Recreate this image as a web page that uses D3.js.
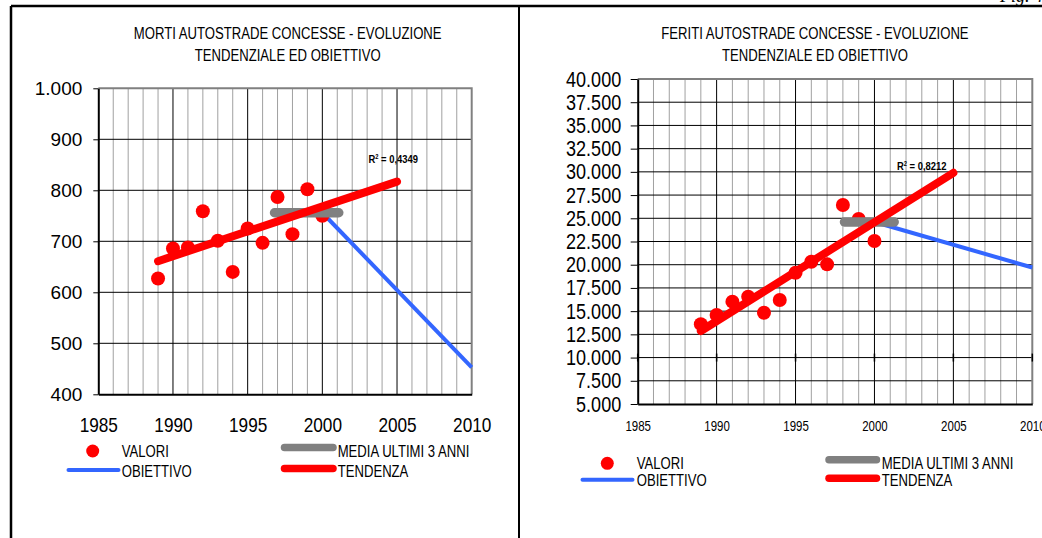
<!DOCTYPE html>
<html>
<head>
<meta charset="utf-8">
<script src="https://cdn.jsdelivr.net/npm/d3@7/dist/d3.min.js"></script>
<style>
  html, body { margin: 0; padding: 0; background: #fff; }
  svg { display: block; }
  text { font-family: "Liberation Sans", Arial, sans-serif; fill: #000; }
</style>
</head>
<body>
<svg id="fig" width="1042" height="538"></svg>
<script>
// ---- data ----------------------------------------------------------
const years = [1989, 1990, 1991, 1992, 1993, 1994, 1995, 1996, 1997, 1998, 1999, 2000];

// road deaths on tolled motorways
const mortiValori = [627, 686, 688, 759, 701, 640, 725, 697, 787, 714, 802, 750];
const mortiTrendYears = [1989, 2005];
const mortiTrendValues = [661, 817];
const mortiMediaYears = [1996.8, 2001.1];
const mortiMediaValue = 756;
const mortiObjYears = [2000, 2010];
const mortiObjValues = [756, 453];
const mortiR2 = "0,4349";
const mortiYTicks = [400, 500, 600, 700, 800, 900, 1000];

// injured on tolled motorways
const feritiValori = [13600, 14580, 16020, 16560, 14830, 16200, 19140, 20320, 20040, 26430, 24920, 22550];
const feritiTrendYears = [1989, 2005];
const feritiTrendValues = [12860, 29900];
const feritiMediaYears = [1998.1, 2001.25];
const feritiMediaValue = 24600;
const feritiObjYears = [2000, 2010];
const feritiObjValues = [24600, 19700];
const feritiR2 = "0,8212";
const feritiYTicks = [5000, 7500, 10000, 12500, 15000, 17500, 20000, 22500, 25000,
                      27500, 30000, 32500, 35000, 37500, 40000];

const xTicks = [1985, 1990, 1995, 2000, 2005, 2010];
const legendLabels = ["VALORI", "OBIETTIVO", "MEDIA ULTIMI 3 ANNI", "TENDENZA"];

// ---- helpers -------------------------------------------------------
const RED = "#ff0000", BLUE = "#3366ff", GREY = "#808080";
const NARROW = 0.82;
const it = d3.formatLocale({ decimal: ",", thousands: ".", grouping: [3], currency: ["", "€"] });
const fmt = it.format(",");

// condense a text element horizontally (narrow sans look)
function narrow(sel) {
  sel.each(function () {
    const x = +(this.getAttribute("x") || 0);
    this.setAttribute("x", x / NARROW);
    this.setAttribute("transform", `scale(${NARROW},1)`);
  });
  return sel;
}

const svg = d3.select("#fig");

// outer frame of the figure
svg.append("line").attr("x1", 11).attr("x2", 1042).attr("y1", 6).attr("y2", 6)
  .attr("stroke", "#000").attr("stroke-width", 2.5);
svg.append("line").attr("x1", 11).attr("x2", 11).attr("y1", 6).attr("y2", 538)
  .attr("stroke", "#000").attr("stroke-width", 2.5);
svg.append("line").attr("x1", 519).attr("x2", 519).attr("y1", 6).attr("y2", 538)
  .attr("stroke", "#000").attr("stroke-width", 2);
svg.append("text").attr("x", 1000).attr("y", 2)
  .style("font-family", "'Liberation Serif', 'DejaVu Serif', serif")
  .style("font-style", "italic").style("font-size", "18px").text("Fig. 4");

function drawChart(c) {
  const g = svg.append("g");
  const x = d3.scaleLinear().domain([1985, 2010]).range([c.left, c.right]);
  const y = d3.scaleLinear().domain(c.yDomain).range([c.bottom, c.top]);

  // title
  c.title.forEach((t, i) => {
    narrow(g.append("text").attr("x", c.titleX).attr("y", c.titleY[i])
      .attr("text-anchor", "middle").style("font-size", "16px").text(t));
  });

  // vertical grid: every year, darker every five years
  const allYears = d3.range(1986, 2010);
  g.append("g").selectAll("line").data(allYears).join("line")
    .attr("x1", d => x(d)).attr("x2", d => x(d))
    .attr("y1", c.top).attr("y2", c.bottom)
    .attr("stroke", d => d % 5 === 0 ? "#000" : "#a0a0a0")
    .attr("stroke-width", 1);

  // horizontal grid
  g.append("g").selectAll("line").data(c.yTicks.slice(1, -1)).join("line")
    .attr("x1", c.left).attr("x2", c.right)
    .attr("y1", d => y(d)).attr("y2", d => y(d))
    .attr("stroke", "#000").attr("stroke-width", 1);

  // plot area border (top / right)
  g.append("path")
    .attr("d", `M${c.left},${c.top}H${c.right}V${c.bottom}`)
    .attr("fill", "none").attr("stroke", GREY).attr("stroke-width", 2);

  // secondary tick marks
  if (c.crossTicks != null) {
    g.append("g").selectAll("line").data(xTicks).join("line")
      .attr("x1", d => x(d)).attr("x2", d => x(d))
      .attr("y1", y(c.crossTicks) - 4).attr("y2", y(c.crossTicks) + 4)
      .attr("stroke", "#000").attr("stroke-width", 1.5);
  }

  // y axis
  const ya = g.append("g").attr("transform", `translate(${c.left},0)`)
    .call(d3.axisLeft(y).tickValues(c.yTicks).tickFormat(fmt)
      .tickSizeInner(c.yTickLen).tickSizeOuter(0).tickPadding(c.yPad));
  ya.select(".domain").attr("stroke", "#000").attr("stroke-width", 2);
  ya.selectAll(".tick line").attr("stroke", "#000").attr("stroke-width", 1);
  ya.selectAll("text").style("font-size", c.yFont + "px")
    .style("font-family", "'Liberation Sans', Arial, sans-serif");
  if (c.yNarrow) narrow(ya.selectAll("text"));

  // x axis
  const xa = g.append("g").attr("transform", `translate(0,${c.bottom})`)
    .call(d3.axisBottom(x).tickValues(xTicks).tickFormat(d3.format("d"))
      .tickSize(0).tickPadding(c.xPad));
  xa.select(".domain").attr("stroke", "#000").attr("stroke-width", 2);
  xa.selectAll("text").style("font-size", c.xFont + "px")
    .style("font-family", "'Liberation Sans', Arial, sans-serif");
  narrow(xa.selectAll("text"));

  const line = d3.line().x(d => x(d[0])).y(d => y(d[1]));

  // target line
  g.append("path").datum(d3.zip(c.objYears, c.objValues)).attr("d", line)
    .attr("fill", "none").attr("stroke", BLUE).attr("stroke-width", 4);

  // yearly values
  g.append("g").selectAll("circle").data(d3.zip(years, c.values)).join("circle")
    .attr("cx", d => x(d[0])).attr("cy", d => y(d[1])).attr("r", 7)
    .attr("fill", RED);

  // mean of the last three years
  g.append("path").datum(c.mediaYears.map(v => [v, c.mediaValue])).attr("d", line)
    .attr("fill", "none").attr("stroke", GREY).attr("stroke-width", 9.5)
    .attr("stroke-linecap", "round");

  // linear trend
  g.append("path").datum(d3.zip(c.trendYears, c.trendValues)).attr("d", line)
    .attr("fill", "none").attr("stroke", RED).attr("stroke-width", 8)
    .attr("stroke-linecap", "round");

  // R² label
  const r2 = g.append("text")
    .attr("transform", `translate(${c.r2X},${c.r2Y}) scale(${NARROW},1)`)
    .style("font-size", "11.5px").style("font-weight", "bold");
  r2.append("tspan").text("R");
  r2.append("tspan").attr("dy", -4).style("font-size", "7px").text("2");
  r2.append("tspan").attr("dy", 4).text(" = " + c.r2);

  // legend
  const L = c.legend;
  g.append("circle").attr("cx", L.dotX).attr("cy", L.row1).attr("r", 6.5).attr("fill", RED);
  g.append("line").attr("x1", L.blueX[0]).attr("x2", L.blueX[1])
    .attr("y1", L.row2 - 1).attr("y2", L.row2 - 1)
    .attr("stroke", BLUE).attr("stroke-width", 4).attr("stroke-linecap", "round");
  g.append("line").attr("x1", L.swX[0]).attr("x2", L.swX[1])
    .attr("y1", L.row1 - 3.5).attr("y2", L.row1 - 3.5)
    .attr("stroke", GREY).attr("stroke-width", 7.5).attr("stroke-linecap", "round");
  g.append("line").attr("x1", L.swX[0]).attr("x2", L.swX[1])
    .attr("y1", L.row2 - 2.5).attr("y2", L.row2 - 2.5)
    .attr("stroke", RED).attr("stroke-width", 7.5).attr("stroke-linecap", "round");
  const lt = [[L.text1X, L.row1, legendLabels[0]], [L.text1X, L.row2, legendLabels[1]],
              [L.text2X, L.row1, legendLabels[2]], [L.text2X, L.row2, legendLabels[3]]];
  lt.forEach(([tx, ty, s]) => {
    narrow(g.append("text").attr("x", tx).attr("y", ty).attr("dy", "0.36em")
      .style("font-size", "16px").text(s));
  });
}

drawChart({
  title: ["MORTI AUTOSTRADE CONCESSE - EVOLUZIONE", "TENDENZIALE ED OBIETTIVO"],
  titleX: 287.7, titleY: [39.5, 61],
  left: 98.3, right: 471.7, top: 88.3, bottom: 394.3,
  yDomain: [400, 1000], yTicks: mortiYTicks,
  yTickLen: 5, yPad: 11, yFont: 19, yNarrow: false,
  xPad: 23, xFont: 21,
  values: mortiValori,
  trendYears: mortiTrendYears, trendValues: mortiTrendValues,
  mediaYears: mortiMediaYears, mediaValue: mortiMediaValue,
  objYears: mortiObjYears, objValues: mortiObjValues,
  r2: mortiR2, r2X: 368.5, r2Y: 163,
  crossTicks: null,
  legend: { dotX: 92.7, row1: 451, row2: 471, blueX: [68.5, 118.5],
            swX: [284.5, 333], text1X: 121.7, text2X: 337.7 }
});

drawChart({
  title: ["FERITI AUTOSTRADE CONCESSE - EVOLUZIONE", "TENDENZIALE ED OBIETTIVO"],
  titleX: 815, titleY: [39.5, 61],
  left: 637.7, right: 1032.3, top: 79, bottom: 404,
  yDomain: [5000, 40000], yTicks: feritiYTicks,
  yTickLen: 7, yPad: 9.5, yFont: 22, yNarrow: true,
  xPad: 17.5, xFont: 14,
  values: feritiValori,
  trendYears: feritiTrendYears, trendValues: feritiTrendValues,
  mediaYears: feritiMediaYears, mediaValue: feritiMediaValue,
  objYears: feritiObjYears, objValues: feritiObjValues,
  r2: feritiR2, r2X: 897, r2Y: 169.5,
  crossTicks: 10000,
  legend: { dotX: 607.3, row1: 463.3, row2: 480.7, blueX: [582.5, 632.5],
            swX: [829, 876.5], text1X: 636.7, text2X: 881.7 }
});
</script>
</body>
</html>
